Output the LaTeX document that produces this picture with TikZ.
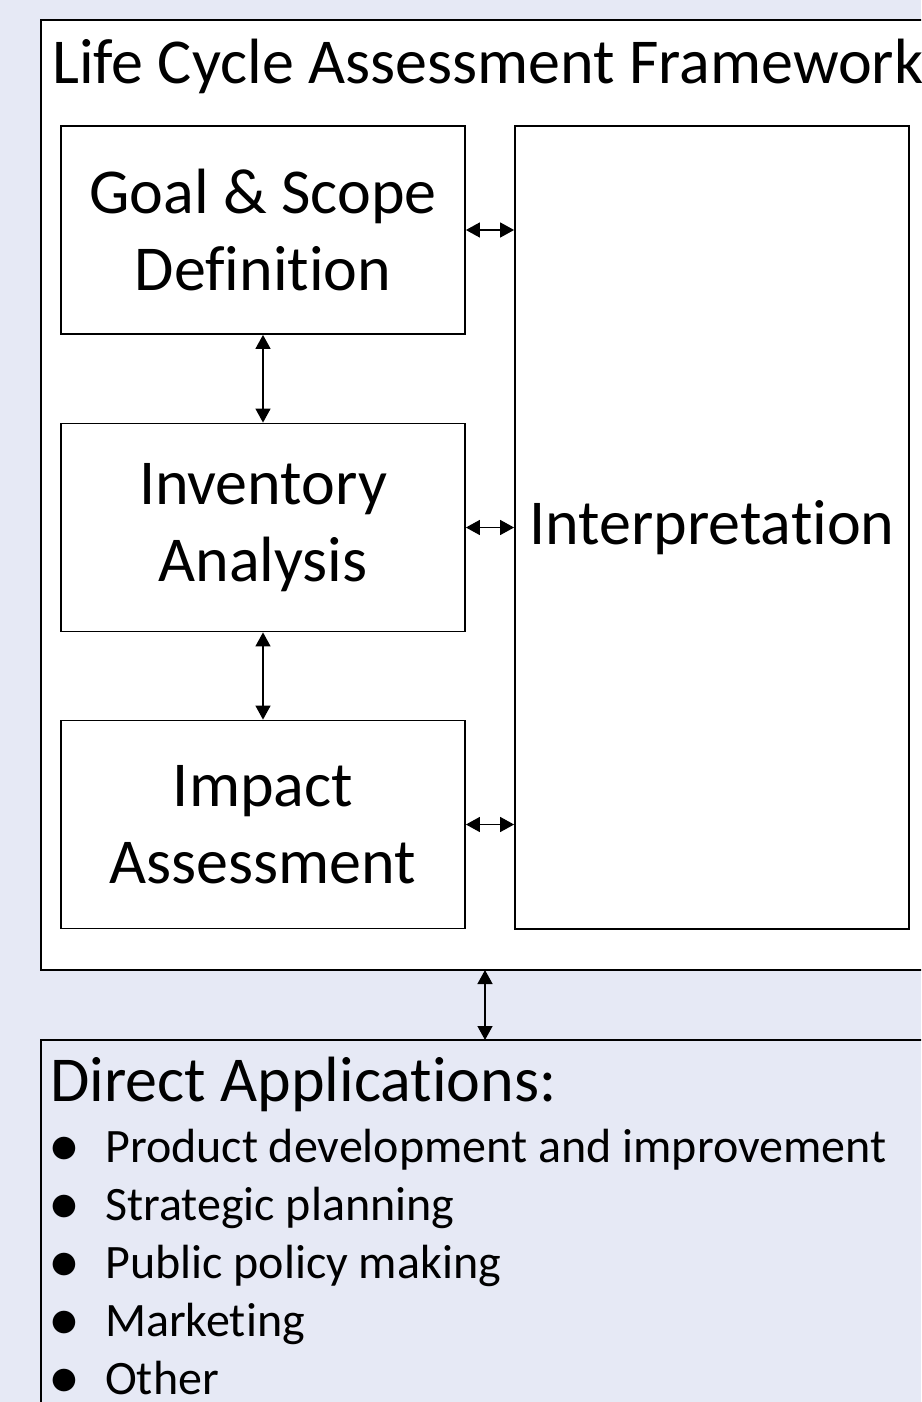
\documentclass[tikz,border=0pt]{standalone}
\usepackage{fontspec}
\setmainfont{Carlito}[Ligatures=NoCommon]
\usepackage{xcolor}
\usetikzlibrary{arrows.meta}
\definecolor{pagebg}{HTML}{E6E9F5}
\tikzstyle{stagebox} = [draw=black, fill=white, line width=1.8pt,
    rectangle, align=center, minimum width=404pt, minimum height=208pt,
    font=\fontsize{64}{77}\selectfont]
\tikzstyle{link} = [line width=1.4pt, {Triangle[length=14pt,width=15pt]}-{Triangle[length=14pt,width=15pt]}]
\tikzstyle{itemtext} = [anchor=base west, inner sep=0pt, font=\fontsize{48}{58}\selectfont]
% keep f-i and t-i apart, as the picture prints them
\newcommand{\nolig}{\kern0pt}
\newcommand{\bigdot}{\smash{\raisebox{-4pt}{\fontsize{64}{64}\selectfont\textbullet}}}

\begin{document}
\begin{tikzpicture}[x=1pt, y=-1pt]
    \useasboundingbox (0,0) rectangle (921,1402);
    \fill[pagebg] (0,0) rectangle (921,1402);
    \clip (0,0) rectangle (921,1402);
    % framework frame
    \draw[line width=1.8pt, fill=white] (41,20) rectangle (940,970);
    \node[anchor=base west, inner sep=0pt, font=\fontsize{64}{77}\selectfont] (title) at (52,84) {Life Cycle Assessment Framework};
    % stages
    \node[stagebox] (goal) at (263,230) {Goal \& Scope\\Def\nolig ini\nolig t\nolig ion};
    \node[stagebox] (inventory) at (263,527.5) {Inventory\\Analysis};
    \node[stagebox] (impact) at (263,824.5) {Impact\\Assessment};
    \node[stagebox, minimum width=394pt, minimum height=803pt] (interp) at (712,527.5) {Interpretat\nolig ion};
    \draw[link] (goal.south) -- (inventory.north);
    \draw[link] (inventory.south) -- (impact.north);
    \draw[link] (goal.east) -- (goal.east -| interp.west);
    \draw[link] (inventory.east) -- (inventory.east -| interp.west);
    \draw[link] (impact.east) -- (impact.east -| interp.west);
    % applications
    \draw[line width=1.8pt] (940,1040) -- (41,1040) -- (41,1420);
    \coordinate (frame) at (485,970);
    \coordinate (apps) at (485,1040);
    \draw[link] (frame) -- (apps);
    \node[anchor=base west, inner sep=0pt, font=\fontsize{64}{77}\selectfont] (appstitle) at (50,1101) {Direct Applicat\nolig ions:};
    \foreach \txt [count=\i] in {Product development and improvement, Strategic planning, Public policy making, Marketing, Other}{
        \node[itemtext] (bullet\i) at (48,1104+58*\i) {\bigdot};
        \node[itemtext] (item\i) at (105,1104+58*\i) {\txt};
    }
\end{tikzpicture}
\end{document}
